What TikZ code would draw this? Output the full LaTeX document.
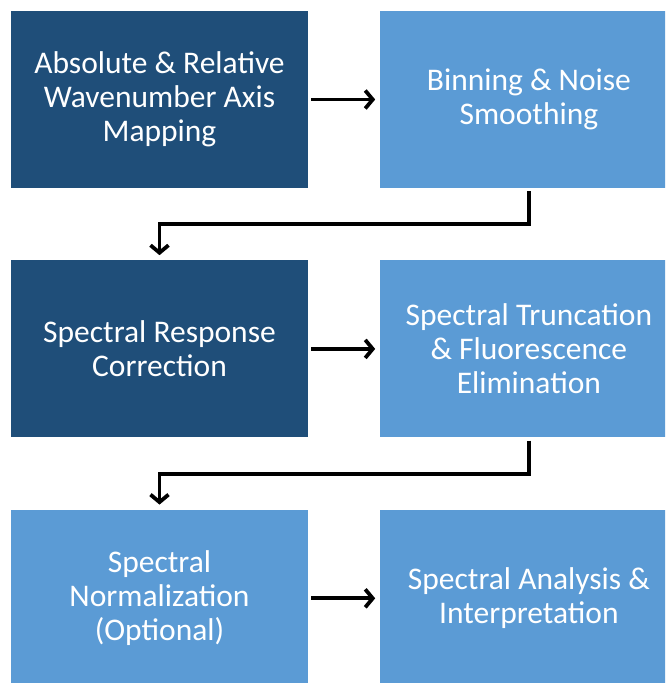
\documentclass[tikz,border=0pt]{standalone}
\usepackage{fontspec}
\setmainfont{Carlito}
\usepackage{xcolor}
\usetikzlibrary{arrows.meta, positioning}

\begin{document}
\begin{tikzpicture}[x=1pt, y=1pt,
    stagebox/.style={rectangle, minimum width=297pt, minimum height=177pt, inner sep=0pt,
      align=center, text=white, font=\fontsize{31.5}{34}\selectfont},
    darkbox/.style={stagebox, fill=darkstage},
    lightbox/.style={stagebox, fill=lightstage},
    flowarrow/.style={-{Straight Barb[length=7.5pt, width=18pt]}, line width=3.8pt, black}]
  % Define colors for the two box shades
  \definecolor{darkstage}{RGB}{31,78,121}     % Dark blue
  \definecolor{lightstage}{RGB}{91,155,213}   % Light blue

  % Page frame
  \clip (0,0) rectangle (665,-683);
  \fill[white] (0,0) rectangle (665,-683);

  % Processing stages
  \node[darkbox] (axis) at (159.5,-99.5) {Absolute \& Relative\\Wavenumber Axis\\Mapping};
  \node[lightbox, right=72pt of axis] (binning) {Binning \& Noise\\Smoothing};
  \node[darkbox, below=72pt of axis] (response) {Spectral Response\\Correction};
  \node[lightbox, right=72pt of response] (truncation) {Spectral Truncation\\\& Fluorescence\\Elimination};
  \node[lightbox, below=72pt of response] (normalization) {Spectral\\Normalization\\(Optional)};
  \node[lightbox, right=72pt of normalization] (analysis) {Spectral Analysis \&\\Interpretation};

  % Arrows within rows
  \draw[flowarrow, shorten <=3pt, shorten >=5pt] (axis.east) -- (binning.west);
  \draw[flowarrow, shorten <=3pt, shorten >=5pt] (response.east) -- (truncation.west);
  \draw[flowarrow, shorten <=3pt, shorten >=5pt] (normalization.east) -- (analysis.west);

  % Arrows between rows
  \draw[flowarrow, shorten <=3pt, shorten >=5pt] (binning.south) -- ++(0,-36) -| (response.north);
  \draw[flowarrow, shorten <=3pt, shorten >=5pt] (truncation.south) -- ++(0,-36) -| (normalization.north);
\end{tikzpicture}
\end{document}
